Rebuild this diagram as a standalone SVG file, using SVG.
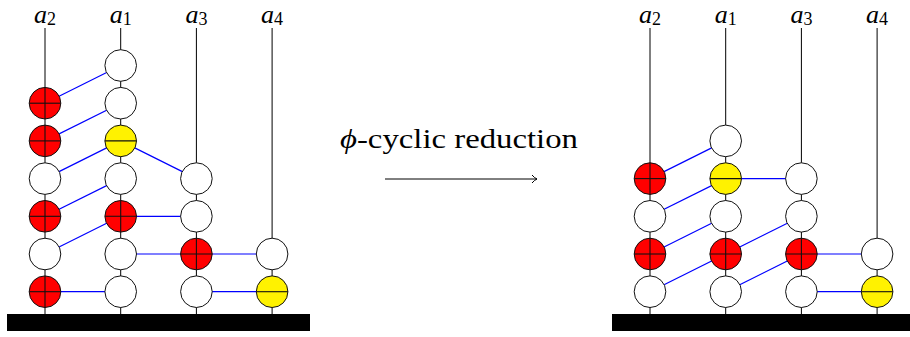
<svg xmlns="http://www.w3.org/2000/svg" width="910" height="337" viewBox="0 0 910 337">
<defs>
<style>
.col{stroke:#000;stroke-width:1;fill:none}
.con{stroke:#0000ff;stroke-width:1.2;fill:none}
.n{stroke:#111;stroke-width:1;}
.w{fill:#fff}
.r{fill:#ff0000}
.y{fill:#fff200}
.mk{stroke:#111;stroke-width:1.1}
.lbl{font-family:'Liberation Serif','Times New Roman',serif;font-style:italic;font-size:26px;fill:#000}
.sub{font-style:normal;font-size:18px}
.bar{fill:#000}
</style>
<marker id="ah" markerWidth="10" markerHeight="10" refX="7" refY="5" orient="auto" markerUnits="userSpaceOnUse">
<path d="M2,1 Q4.5,4 7,5 Q4.5,6 2,9" fill="none" stroke="#000" stroke-width="1"/>
</marker>
</defs>

<g id="bars">
<rect class="bar" x="7" y="314" width="303" height="17"/>
<rect class="bar" x="612" y="314" width="298" height="17"/>
</g>

<g id="columns">
<line class="col" x1="45" y1="28" x2="45" y2="314"/>
<line class="col" x1="120.7" y1="28" x2="120.7" y2="314"/>
<line class="col" x1="196.4" y1="28" x2="196.4" y2="314"/>
<line class="col" x1="272.1" y1="28" x2="272.1" y2="314"/>
<line class="col" x1="650" y1="28" x2="650" y2="314"/>
<line class="col" x1="725.7" y1="28" x2="725.7" y2="314"/>
<line class="col" x1="801.4" y1="28" x2="801.4" y2="314"/>
<line class="col" x1="877.1" y1="28" x2="877.1" y2="314"/>
</g>

<g id="labels">
<text class="lbl" x="45" y="22.5" text-anchor="middle">a<tspan class="sub" dy="2.5">2</tspan></text>
<text class="lbl" x="120.7" y="22.5" text-anchor="middle">a<tspan class="sub" dy="2.5">1</tspan></text>
<text class="lbl" x="196.4" y="22.5" text-anchor="middle">a<tspan class="sub" dy="2.5">3</tspan></text>
<text class="lbl" x="272.1" y="22.5" text-anchor="middle">a<tspan class="sub" dy="2.5">4</tspan></text>
<text class="lbl" x="650" y="22.5" text-anchor="middle">a<tspan class="sub" dy="2.5">2</tspan></text>
<text class="lbl" x="725.7" y="22.5" text-anchor="middle">a<tspan class="sub" dy="2.5">1</tspan></text>
<text class="lbl" x="801.4" y="22.5" text-anchor="middle">a<tspan class="sub" dy="2.5">3</tspan></text>
<text class="lbl" x="877.1" y="22.5" text-anchor="middle">a<tspan class="sub" dy="2.5">4</tspan></text>
</g>

<g id="connectors">
<line class="con" x1="45" y1="103.2" x2="120.7" y2="65.5"/>
<line class="con" x1="45" y1="140.9" x2="120.7" y2="103.2"/>
<line class="con" x1="45" y1="178.6" x2="120.7" y2="140.9"/>
<line class="con" x1="45" y1="216.3" x2="120.7" y2="178.6"/>
<line class="con" x1="45" y1="254" x2="120.7" y2="216.3"/>
<line class="con" x1="45" y1="291.7" x2="120.7" y2="291.7"/>
<line class="con" x1="120.7" y1="140.9" x2="196.4" y2="178.6"/>
<line class="con" x1="120.7" y1="216.3" x2="196.4" y2="216.3"/>
<line class="con" x1="120.7" y1="254" x2="272.1" y2="254"/>
<line class="con" x1="196.4" y1="291.7" x2="272.1" y2="291.7"/>

<line class="con" x1="650" y1="178.6" x2="725.7" y2="140.9"/>
<line class="con" x1="650" y1="216.3" x2="725.7" y2="178.6"/>
<line class="con" x1="650" y1="254" x2="725.7" y2="216.3"/>
<line class="con" x1="650" y1="291.7" x2="725.7" y2="254"/>
<line class="con" x1="725.7" y1="178.6" x2="801.4" y2="178.6"/>
<line class="con" x1="725.7" y1="254" x2="801.4" y2="216.3"/>
<line class="con" x1="725.7" y1="291.7" x2="801.4" y2="254"/>
<line class="con" x1="801.4" y1="254" x2="877.1" y2="254"/>
<line class="con" x1="801.4" y1="291.7" x2="877.1" y2="291.7"/>

<line x1="385" y1="179" x2="537" y2="179" stroke="#000" stroke-width="1" marker-end="url(#ah)"/>
</g>

<text id="reduction-label" x="340" y="148" textLength="238" lengthAdjust="spacingAndGlyphs" font-family="'Liberation Serif','Times New Roman',serif" font-size="27" fill="#000"><tspan font-style="italic">ϕ</tspan>-cyclic reduction</text>

<!-- left nodes -->
<g id="L-a2-5"><circle class="n r" cx="45" cy="103.2" r="15.8"/><line class="mk" x1="29.2" y1="103.2" x2="60.8" y2="103.2"/><line class="mk" x1="45" y1="87.4" x2="45" y2="119"/></g>
<g id="L-a2-4"><circle class="n r" cx="45" cy="140.9" r="15.8"/><line class="mk" x1="29.2" y1="140.9" x2="60.8" y2="140.9"/><line class="mk" x1="45" y1="125.1" x2="45" y2="156.7"/></g>
<g id="L-a2-3"><circle class="n w" cx="45" cy="178.6" r="15.8"/></g>
<g id="L-a2-2"><circle class="n r" cx="45" cy="216.3" r="15.8"/><line class="mk" x1="29.2" y1="216.3" x2="60.8" y2="216.3"/><line class="mk" x1="45" y1="200.5" x2="45" y2="232.1"/></g>
<g id="L-a2-1"><circle class="n w" cx="45" cy="254" r="15.8"/></g>
<g id="L-a2-0"><circle class="n r" cx="45" cy="291.7" r="15.8"/><line class="mk" x1="29.2" y1="291.7" x2="60.8" y2="291.7"/><line class="mk" x1="45" y1="275.9" x2="45" y2="307.5"/></g>

<g id="L-a1-6"><circle class="n w" cx="120.7" cy="65.5" r="15.8"/></g>
<g id="L-a1-5"><circle class="n w" cx="120.7" cy="103.2" r="15.8"/></g>
<g id="L-a1-4"><circle class="n y" cx="120.7" cy="140.9" r="15.8"/><line class="mk" x1="104.9" y1="140.9" x2="136.5" y2="140.9"/></g>
<g id="L-a1-3"><circle class="n w" cx="120.7" cy="178.6" r="15.8"/></g>
<g id="L-a1-2"><circle class="n r" cx="120.7" cy="216.3" r="15.8"/><line class="mk" x1="104.9" y1="216.3" x2="136.5" y2="216.3"/><line class="mk" x1="120.7" y1="200.5" x2="120.7" y2="232.1"/></g>
<g id="L-a1-1"><circle class="n w" cx="120.7" cy="254" r="15.8"/></g>
<g id="L-a1-0"><circle class="n w" cx="120.7" cy="291.7" r="15.8"/></g>

<g id="L-a3-3"><circle class="n w" cx="196.4" cy="178.6" r="15.8"/></g>
<g id="L-a3-2"><circle class="n w" cx="196.4" cy="216.3" r="15.8"/></g>
<g id="L-a3-1"><circle class="n r" cx="196.4" cy="254" r="15.8"/><line class="mk" x1="180.6" y1="254" x2="212.2" y2="254"/><line class="mk" x1="196.4" y1="238.2" x2="196.4" y2="269.8"/></g>
<g id="L-a3-0"><circle class="n w" cx="196.4" cy="291.7" r="15.8"/></g>

<g id="L-a4-1"><circle class="n w" cx="272.1" cy="254" r="15.8"/></g>
<g id="L-a4-0"><circle class="n y" cx="272.1" cy="291.7" r="15.8"/><line class="mk" x1="256.3" y1="291.7" x2="287.9" y2="291.7"/></g>

<!-- right nodes -->
<g id="R-a2-3"><circle class="n r" cx="650" cy="178.6" r="15.8"/><line class="mk" x1="634.2" y1="178.6" x2="665.8" y2="178.6"/><line class="mk" x1="650" y1="162.8" x2="650" y2="194.4"/></g>
<g id="R-a2-2"><circle class="n w" cx="650" cy="216.3" r="15.8"/></g>
<g id="R-a2-1"><circle class="n r" cx="650" cy="254" r="15.8"/><line class="mk" x1="634.2" y1="254" x2="665.8" y2="254"/><line class="mk" x1="650" y1="238.2" x2="650" y2="269.8"/></g>
<g id="R-a2-0"><circle class="n w" cx="650" cy="291.7" r="15.8"/></g>

<g id="R-a1-4"><circle class="n w" cx="725.7" cy="140.9" r="15.8"/></g>
<g id="R-a1-3"><circle class="n y" cx="725.7" cy="178.6" r="15.8"/><line class="mk" x1="709.9" y1="178.6" x2="741.5" y2="178.6"/></g>
<g id="R-a1-2"><circle class="n w" cx="725.7" cy="216.3" r="15.8"/></g>
<g id="R-a1-1"><circle class="n r" cx="725.7" cy="254" r="15.8"/><line class="mk" x1="709.9" y1="254" x2="741.5" y2="254"/><line class="mk" x1="725.7" y1="238.2" x2="725.7" y2="269.8"/></g>
<g id="R-a1-0"><circle class="n w" cx="725.7" cy="291.7" r="15.8"/></g>

<g id="R-a3-3"><circle class="n w" cx="801.4" cy="178.6" r="15.8"/></g>
<g id="R-a3-2"><circle class="n w" cx="801.4" cy="216.3" r="15.8"/></g>
<g id="R-a3-1"><circle class="n r" cx="801.4" cy="254" r="15.8"/><line class="mk" x1="785.6" y1="254" x2="817.2" y2="254"/><line class="mk" x1="801.4" y1="238.2" x2="801.4" y2="269.8"/></g>
<g id="R-a3-0"><circle class="n w" cx="801.4" cy="291.7" r="15.8"/></g>

<g id="R-a4-1"><circle class="n w" cx="877.1" cy="254" r="15.8"/></g>
<g id="R-a4-0"><circle class="n y" cx="877.1" cy="291.7" r="15.8"/><line class="mk" x1="861.3" y1="291.7" x2="892.9" y2="291.7"/></g>
</svg>
